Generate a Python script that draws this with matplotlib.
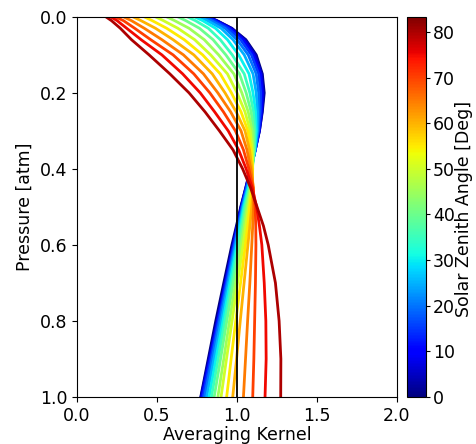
import matplotlib
matplotlib.use("Agg")
import matplotlib.pyplot as plt
import numpy as np

# pressure levels [atm]
pressure = [0.0, 0.01, 0.03, 0.06, 0.1, 0.15, 0.2, 0.25, 0.3, 0.35, 0.4,
            0.45, 0.5, 0.55, 0.6, 0.7, 0.8, 0.9, 1.0]

# solar zenith angles [deg]
sza = [0, 5, 10, 15, 20, 25, 30, 35, 40, 45, 50, 55, 60, 65, 70, 75, 80]
sza_max = 83.3

# averaging kernel for each sza
ak_00 = [.82, .875, .968, 1.055, 1.12, 1.158, 1.17, 1.158, 1.14, 1.113, 1.083, 1.054, 1.023, .996, .968, .917, .867, .82, .773]
ak_05 = [.82, .873, .964, 1.05, 1.113, 1.154, 1.165, 1.156, 1.14, 1.114, 1.084, 1.055, 1.025, 1.0, .975, .925, .875, .825, .775]
ak_10 = [.815, .867, .956, 1.038, 1.103, 1.147, 1.158, 1.152, 1.138, 1.114, 1.085, 1.057, 1.027, 1.002, .978, .928, .879, .83, .78]
ak_15 = [.805, .857, .945, 1.022, 1.09, 1.135, 1.148, 1.146, 1.135, 1.114, 1.086, 1.059, 1.03, 1.006, .981, .933, .884, .836, .787]
ak_20 = [.79, .84, .925, 1.0, 1.07, 1.12, 1.135, 1.138, 1.131, 1.113, 1.088, 1.062, 1.033, 1.01, .986, .939, .891, .844, .797]
ak_25 = [.765, .815, .90, .975, 1.045, 1.10, 1.12, 1.128, 1.126, 1.112, 1.09, 1.066, 1.037, 1.014, .992, .946, .901, .855, .81]
ak_30 = [.735, .785, .865, .94, 1.01, 1.075, 1.10, 1.116, 1.12, 1.11, 1.092, 1.07, 1.042, 1.02, .999, .955, .912, .868, .825]
ak_35 = [.69, .74, .82, .895, .97, 1.045, 1.08, 1.103, 1.112, 1.108, 1.094, 1.075, 1.048, 1.027, 1.006, .965, .923, .882, .84]
ak_40 = [.63, .68, .765, .85, .93, 1.015, 1.057, 1.088, 1.104, 1.105, 1.096, 1.08, 1.055, 1.035, 1.015, .976, .936, .897, .857]
ak_45 = [.56, .61, .70, .795, .885, .98, 1.03, 1.07, 1.094, 1.10, 1.097, 1.085, 1.063, 1.045, 1.026, .99, .953, .917, .88]
ak_50 = [.49, .54, .63, .735, .835, .94, 1.0, 1.05, 1.082, 1.095, 1.098, 1.09, 1.072, 1.055, 1.038, 1.003, .969, .934, .90]
ak_55 = [.42, .47, .56, .67, .785, .895, .965, 1.025, 1.068, 1.088, 1.097, 1.095, 1.08, 1.067, 1.052, 1.022, .992, .963, .935]
ak_60 = [.35, .40, .49, .60, .73, .845, .925, .995, 1.05, 1.078, 1.093, 1.10, 1.092, 1.08, 1.068, 1.044, 1.02, .997, .973]
ak_65 = [.29, .34, .42, .53, .665, .79, .88, .96, 1.025, 1.062, 1.086, 1.102, 1.103, 1.098, 1.092, 1.08, 1.066, 1.053, 1.04]
ak_70 = [.24, .29, .36, .46, .60, .73, .83, .915, .99, 1.04, 1.074, 1.10, 1.113, 1.117, 1.118, 1.115, 1.11, 1.105, 1.098]
ak_75 = [.21, .25, .31, .40, .53, .66, .77, .86, .945, 1.01, 1.057, 1.095, 1.122, 1.14, 1.155, 1.17, 1.18, 1.182, 1.175]
ak_80 = [.18, .215, .27, .34, .45, .58, .70, .80, .89, .975, 1.035, 1.085, 1.125, 1.165, 1.195, 1.24, 1.263, 1.274, 1.273]

kernels = [ak_00, ak_05, ak_10, ak_15, ak_20, ak_25, ak_30, ak_35, ak_40,
           ak_45, ak_50, ak_55, ak_60, ak_65, ak_70, ak_75, ak_80]

fs = 12.5

fig = plt.figure(figsize=(4.76, 4.44), dpi=100)
ax = fig.add_axes([0.162, 0.106, 0.672, 0.856])
cax = fig.add_axes([0.855, 0.106, 0.040, 0.856])

cmap = plt.get_cmap("jet")
norm = matplotlib.colors.Normalize(vmin=0, vmax=sza_max)

for angle, ak in zip(sza, kernels):
    ax.plot(ak, pressure, color=cmap(norm(angle)), lw=2.0)

ax.axvline(1.0, color="black", lw=1.3)

ax.set_xlim(0, 2)
ax.set_ylim(1.0, 0.0)
ax.set_xticks([0.0, 0.5, 1.0, 1.5, 2.0])
ax.set_yticks([0.0, 0.2, 0.4, 0.6, 0.8, 1.0])
ax.tick_params(labelsize=fs)
ax.set_xlabel("Averaging Kernel", fontsize=fs, labelpad=1)
ax.set_ylabel("Pressure [atm]", fontsize=fs, labelpad=4)

sm = matplotlib.cm.ScalarMappable(norm=norm, cmap=cmap)
cb = fig.colorbar(sm, cax=cax)
cb.set_ticks([0, 10, 20, 30, 40, 50, 60, 70, 80])
cb.ax.tick_params(labelsize=fs, length=3, pad=2)
fig.text(0.974, 0.53, "Solar Zenith Angle [Deg]", fontsize=fs,
         rotation=90, ha="center", va="center")

fig.savefig("out.png", dpi=100)
